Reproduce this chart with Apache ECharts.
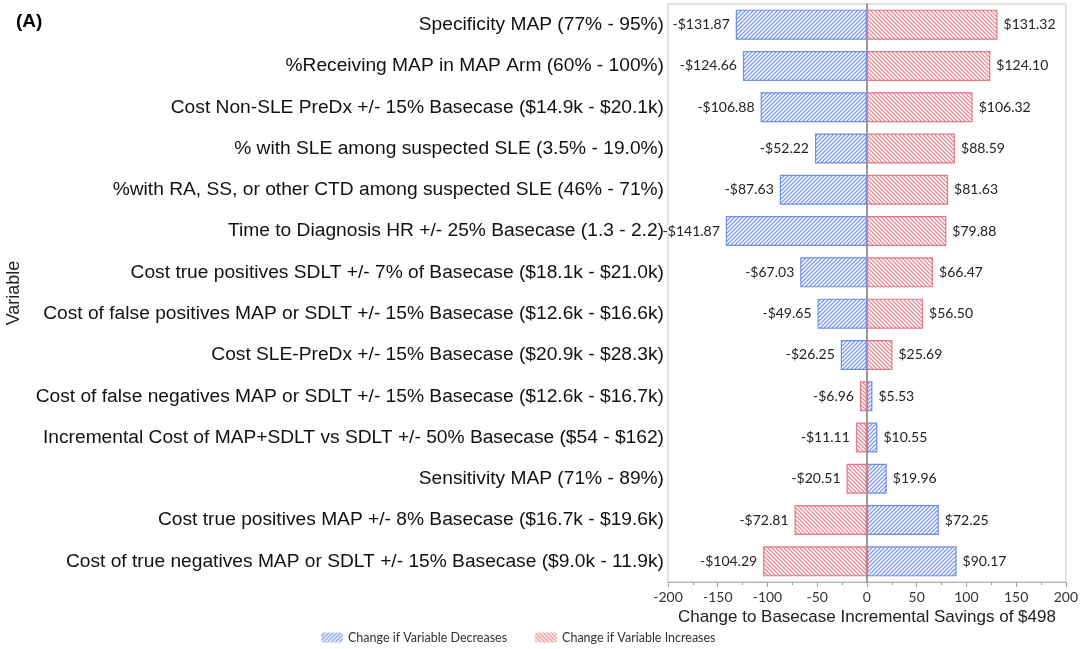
<!DOCTYPE html>
<html>
<head>
<meta charset="utf-8">
<script src="https://cdn.jsdelivr.net/npm/echarts@6/dist/echarts.min.js"></script>
<style>
html,body{margin:0;padding:0;background:#fff;}
#chart{width:1081px;height:649px;}
</style>
</head>
<body>
<div id="chart"></div>
<script>
const categories = [
  "Specificity MAP (77% - 95%)",
  "%Receiving MAP in MAP Arm (60% - 100%)",
  "Cost Non-SLE PreDx +/- 15% Basecase ($14.9k - $20.1k)",
  "% with SLE among suspected SLE (3.5% - 19.0%)",
  "%with RA, SS, or other CTD among suspected SLE (46% - 71%)",
  "Time to Diagnosis HR +/- 25% Basecase (1.3 - 2.2)",
  "Cost true positives SDLT +/- 7% of Basecase ($18.1k - $21.0k)",
  "Cost of false positives MAP or SDLT +/- 15% Basecase ($12.6k - $16.6k)",
  "Cost SLE-PreDx +/- 15% Basecase ($20.9k - $28.3k)",
  "Cost of false negatives MAP or SDLT +/- 15% Basecase ($12.6k - $16.7k)",
  "Incremental Cost of MAP+SDLT vs SDLT +/- 50% Basecase ($54 - $162)",
  "Sensitivity MAP (71% - 89%)",
  "Cost true positives MAP +/- 8% Basecase ($16.7k - $19.6k)",
  "Cost of true negatives MAP or SDLT +/- 15% Basecase ($9.0k - 11.9k)"
];
const decreaseValues = [-131.87,-124.66,-106.88,-52.22,-87.63,-141.87,-67.03,-49.65,-26.25,5.53,10.55,19.96,72.25,90.17];
const increaseValues = [131.32,124.10,106.32,88.59,81.63,79.88,66.47,56.50,25.69,-6.96,-11.11,-20.51,-72.81,-104.29];
const xTicks = [-200,-150,-100,-50,0,50,100,150,200];

function hatch(color, dir){
  const s = 4;
  const c = document.createElement('canvas');
  c.width = s; c.height = s;
  const g = c.getContext('2d');
  g.fillStyle = '#fff'; g.fillRect(0,0,s,s);
  g.strokeStyle = color; g.lineWidth = 1.3;
  g.beginPath();
  if (dir > 0) {
    g.moveTo(-1, s+1); g.lineTo(s+1, -1);
    g.moveTo(-1, 1); g.lineTo(1, -1);
    g.moveTo(s-1, s+1); g.lineTo(s+1, s-1);
  } else {
    g.moveTo(-1, -1); g.lineTo(s+1, s+1);
    g.moveTo(-1, s-1); g.lineTo(1, s+1);
    g.moveTo(s-1, -1); g.lineTo(s+1, 1);
  }
  g.stroke();
  return {image: c, repeat: 'repeat'};
}
const bluePat = hatch('#7f9bea', 1);
const redPat = hatch('#e98c95', -1);

function fmt(v){ return (v < 0 ? '-$' : '$') + Math.abs(v).toFixed(2); }
function mk(vals){
  return vals.map(v => ({value: v, label: {position: v < 0 ? 'left' : 'right'}}));
}

const chart = echarts.init(document.getElementById('chart'));
chart.setOption({
  animation: false,
  backgroundColor: '#fff',
  title: {
    text: '(A)', left: 11, top: 7,
    textStyle: {fontFamily: 'Liberation Sans, Arial', fontWeight: 'bold', fontSize: 19, color: '#000'}
  },
  grid: {left: 668, right: 13, top: 4, bottom: 67, show: true, borderColor: '#c8c8c8', borderWidth: 1, containLabel: false},
  legend: {
    bottom: 0, left: 316, itemGap: 28, itemWidth: 22, itemHeight: 10,
    textStyle: {fontFamily: 'Lato, Open Sans', fontSize: 12.5, color: '#333'},
    data: [
      {name: 'Change if Variable Decreases', itemStyle: {borderWidth: 0}},
      {name: 'Change if Variable Increases', itemStyle: {borderWidth: 0}}
    ]
  },
  xAxis: {
    type: 'value', min: xTicks[0], max: xTicks[xTicks.length-1], interval: 50,
    name: 'Change to Basecase Incremental Savings of $498',
    nameLocation: 'middle', nameGap: 27,
    nameTextStyle: {fontFamily: 'Liberation Sans, Arial', fontSize: 17, color: '#222'},
    axisLine: {show: true, lineStyle: {color: '#b0b0b0'}},
    axisTick: {show: true, length: 5, lineStyle: {color: '#a0a0a0'}},
    minorTick: {show: true, splitNumber: 2, length: 3, lineStyle: {color: '#a0a0a0'}},
    splitLine: {show: false},
    axisLabel: {fontFamily: 'Lato, Open Sans', fontSize: 14, color: '#333', margin: 8}
  },
  yAxis: {
    type: 'category', data: categories, inverse: true,
    name: 'Variable', nameLocation: 'middle', nameRotate: 90, nameGap: 645,
    nameTextStyle: {fontFamily: 'Liberation Sans, Arial', fontSize: 18, color: '#222'},
    axisLine: {show: true, onZero: true, lineStyle: {color: '#777', width: 1.5}},
    axisTick: {show: false},
    axisLabel: {fontFamily: 'Liberation Sans, Arial', fontSize: 19.2, color: '#111', margin: 4}
  },
  series: [
    {
      name: 'Change if Variable Decreases', type: 'bar', barWidth: 30, barGap: '-100%',
      data: mk(decreaseValues),
      itemStyle: {color: bluePat, borderColor: '#6f8fe3', borderWidth: 1.2},
      label: {show: true, distance: 6, formatter: p => fmt(p.value),
        fontFamily: 'Lato, Open Sans', fontSize: 14, color: '#222'}
    },
    {
      name: 'Change if Variable Increases', type: 'bar', barWidth: 30, barGap: '-100%',
      data: mk(increaseValues),
      itemStyle: {color: redPat, borderColor: '#e37883', borderWidth: 1.2},
      label: {show: true, distance: 6, formatter: p => fmt(p.value),
        fontFamily: 'Lato, Open Sans', fontSize: 14, color: '#222'}
    }
  ]
});
</script>
</body>
</html>
